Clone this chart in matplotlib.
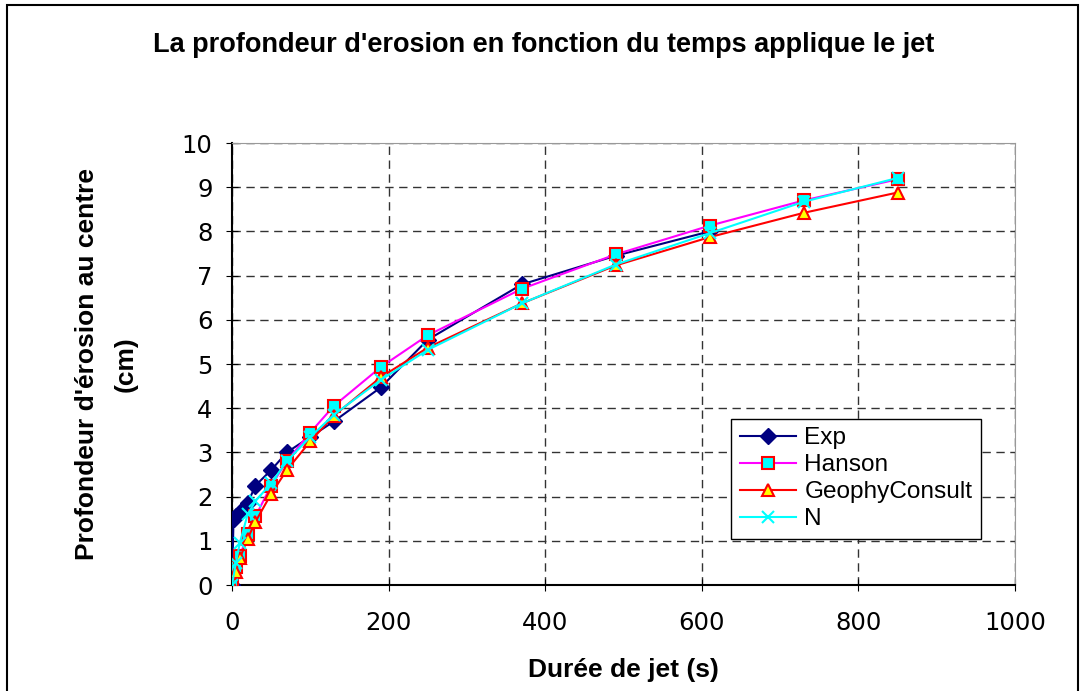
import matplotlib.pyplot as plt
from matplotlib.patches import Rectangle

# durations (s)
t_exp = [0, 2, 5, 10, 20, 30, 50, 70, 100, 130, 190, 250, 370, 490, 610]
t_mod = [0, 5, 10, 20, 30, 50, 70, 100, 130, 190, 250, 370, 490, 610, 730, 850]

# erosion depth (cm)
exp = [0, 1.5, 1.55, 1.65, 1.85, 2.25, 2.6, 3.0, 3.35, 3.7, 4.47, 5.55, 6.8, 7.45, 8.0]
hanson = [0, 0.4, 0.65, 1.15, 1.55, 2.25, 2.8, 3.45, 4.05, 4.93, 5.65, 6.7, 7.48, 8.13, 8.7, 9.18]
geophy = [0, 0.3, 0.6, 1.05, 1.43, 2.06, 2.6, 3.25, 3.83, 4.7, 5.37, 6.37, 7.23, 7.87, 8.42, 8.88]
n_model = [0, 0.5, 0.95, 1.6, 1.9, 2.3, 2.8, 3.35, 3.85, 4.64, 5.32, 6.37, 7.25, 7.96, 8.67, 9.21]

xticks = [0, 200, 400, 600, 800, 1000]
yticks = list(range(0, 11))

fig = plt.figure(figsize=(10.83, 6.91), dpi=100)
ax = fig.add_axes([0.2142, 0.1534, 0.723, 0.6396])

ax.plot(t_exp, exp, color="#000080", lw=1.5, marker="D", ms=8,
        mfc="#000080", mec="#000080", label="Exp", zorder=3)
ax.plot(t_mod, hanson, color="#ff00ff", lw=1.5, marker="s", ms=8,
        mfc="#00ffff", mec="#ff0000", mew=1.5, label="Hanson", zorder=4)
ax.plot(t_mod, geophy, color="#ff0000", lw=1.5, marker="^", ms=9,
        mfc="#ffff00", mec="#ff0000", mew=1.5, label="GeophyConsult", zorder=5)
ax.plot(t_mod, n_model, color="#00ffff", lw=1.5, marker="x", ms=9,
        mew=1.5, label="N", zorder=6)

ax.set_xlim(0, 1000)
ax.set_ylim(0, 10)
ax.set_xticks(xticks)
ax.set_yticks(yticks)
ax.grid(True, color="#333333", ls=(0, (6, 4)), lw=1)
ax.set_axisbelow(True)

for s in ["top", "right"]:
    ax.spines[s].set_color("#999999")
for s in ["left", "bottom"]:
    ax.spines[s].set_color("black")
    ax.spines[s].set_linewidth(1.5)

ax.tick_params(direction="inout", length=8, labelsize=17.5)
ax.tick_params(axis="x", pad=15)
ax.tick_params(axis="y", pad=10)
for lab in ax.get_xticklabels() + ax.get_yticklabels():
    lab.set_family("DejaVu Sans")

bold = dict(family="Liberation Sans", weight="bold", fontsize=19)
ax.set_xlabel("Durée de jet (s)", labelpad=16, **bold)
ax.set_ylabel("Profondeur d'érosion au centre\n(cm)", labelpad=32,
              linespacing=1.75, **bold)
fig.text(0.502, 0.935, "La profondeur d'erosion en fonction du temps applique le jet",
         ha="center", va="center", family="Liberation Sans", weight="bold", fontsize=19.5)

leg = ax.legend(loc="lower right", bbox_to_anchor=(0.9566, 0.104), fancybox=False,
                framealpha=1, edgecolor="black", borderpad=0.35, labelspacing=0.2,
                handlelength=2.3, handletextpad=0.35, borderaxespad=0,
                prop=dict(family="Liberation Sans", size=17.6))
leg.get_frame().set_linewidth(1)

fig.add_artist(Rectangle((0.0065, -0.1), 0.989, 1.0928, transform=fig.transFigure,
                         fill=False, lw=1.5, ec="black"))

fig.savefig("out.png", dpi=100)
